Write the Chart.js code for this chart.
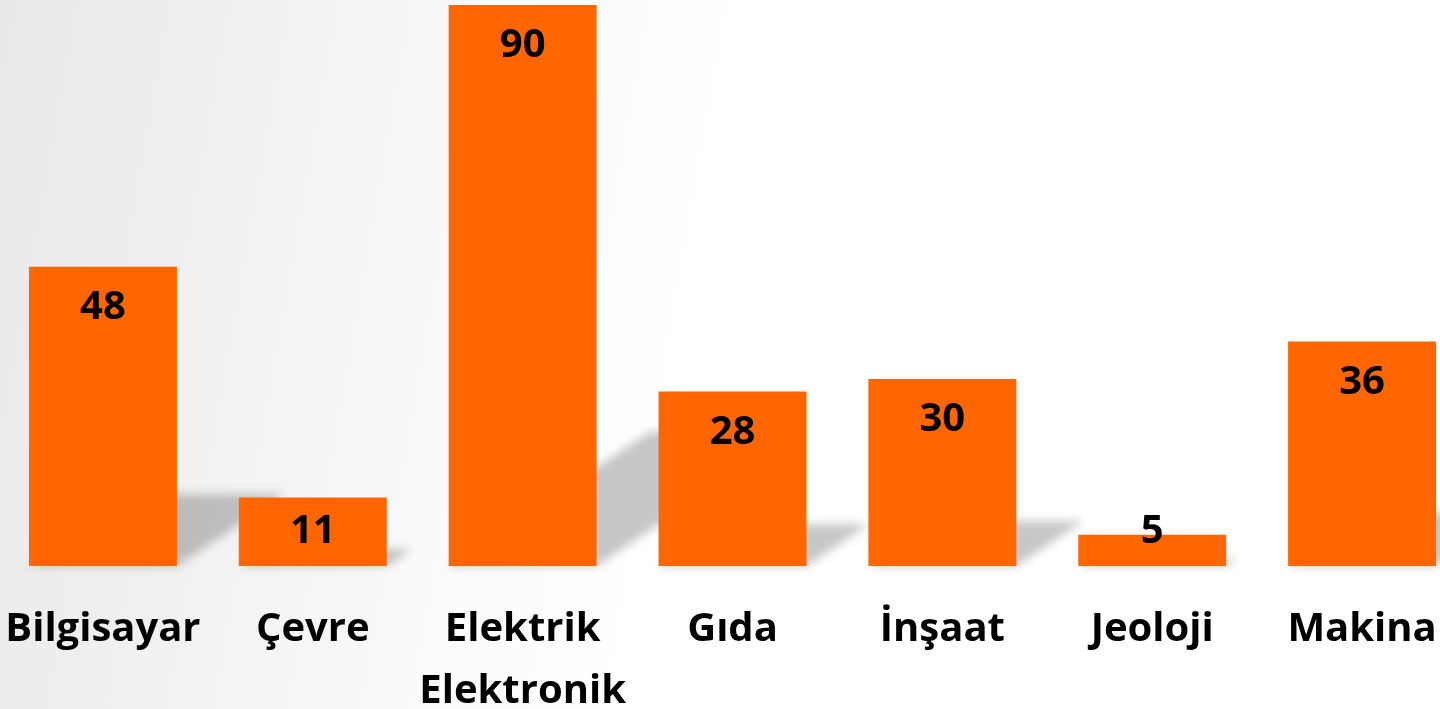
<!DOCTYPE html>
<html>
<head>
<meta charset="utf-8">
<script src="https://cdn.jsdelivr.net/npm/chart.js@4/dist/chart.umd.min.js"></script>
<style>
  html, body { margin: 0; padding: 0; overflow: hidden; }
  body {
    width: 1440px; height: 709px;
    background: linear-gradient(100deg, #e9e9e9 0%, #f1f1f1 18%, #fafafa 34%, #ffffff 48%, #ffffff 100%);
  }
  #wrap { position: absolute; left: -2px; top: 0; width: 1469px; height: 709px; }
</style>
</head>
<body>
<div id="wrap"><canvas id="chart"></canvas></div>
<script>
const categories = ['Bilgisayar', 'Çevre', ['Elektrik', 'Elektronik'], 'Gıda', 'İnşaat', 'Jeoloji', 'Makina'];
const values = [48, 11, 90, 28, 30, 5, 36];

const barShadows = {
  id: 'barShadows',
  beforeDatasetsDraw(chart) {
    const ctx = chart.ctx;
    ctx.save();
    ctx.filter = 'blur(5px)';
    ctx.fillStyle = 'rgba(0,0,0,0.22)';
    chart.getDatasetMeta(0).data.forEach(function(bar) {
      const h = bar.base - bar.y;
      const sh = h * 0.24;
      const skew = sh * 1.5;
      const l = bar.x - bar.width / 2;
      const r = bar.x + bar.width / 2;
      ctx.beginPath();
      ctx.moveTo(l, bar.base);
      ctx.lineTo(r, bar.base);
      ctx.lineTo(r + skew, bar.base - sh);
      ctx.lineTo(l + skew, bar.base - sh);
      ctx.closePath();
      ctx.fill();
    });
    ctx.restore();
  }
};

// value inside the top of the bar, pushed up for short bars
const valueLabels = {
  id: 'valueLabels',
  afterDatasetsDraw(chart) {
    const ctx = chart.ctx;
    ctx.save();
    ctx.font = 'bold 40px "Open Sans"';
    ctx.fillStyle = '#000';
    ctx.textAlign = 'center';
    ctx.textBaseline = 'middle';
    chart.getDatasetMeta(0).data.forEach(function(bar, i) {
      const y = Math.min(bar.y + 41, bar.base - 34);
      ctx.fillText(String(values[i]), bar.x, y);
    });
    ctx.restore();
  }
};

const ctx = document.getElementById('chart').getContext('2d');
new Chart(ctx, {
  type: 'bar',
  data: {
    labels: categories,
    datasets: [{
      data: values,
      backgroundColor: '#ff6600',
      borderWidth: 0,
      categoryPercentage: 1,
      barPercentage: 0.705,
    }],
  },
  options: {
    responsive: true,
    maintainAspectRatio: false,
    animation: false,
    layout: { padding: 0 },
    plugins: { legend: { display: false }, tooltip: { enabled: false } },
    scales: {
      x: {
        grid: { display: false },
        border: { display: false },
        ticks: {
          color: '#000',
          padding: 25,
          maxRotation: 0,
          autoSkip: false,
          font: { family: 'Open Sans', weight: 'bold', size: 40, lineHeight: 1.55 },
        },
        afterFit: function(scale) {
          scale.height = 143;
          scale.paddingLeft = 0;
          scale.paddingRight = 0;
        },
      },
      y: {
        display: false,
        min: 0,
        max: 90.8,
      },
    },
  },
  plugins: [barShadows, valueLabels],
});
</script>
</body>
</html>
